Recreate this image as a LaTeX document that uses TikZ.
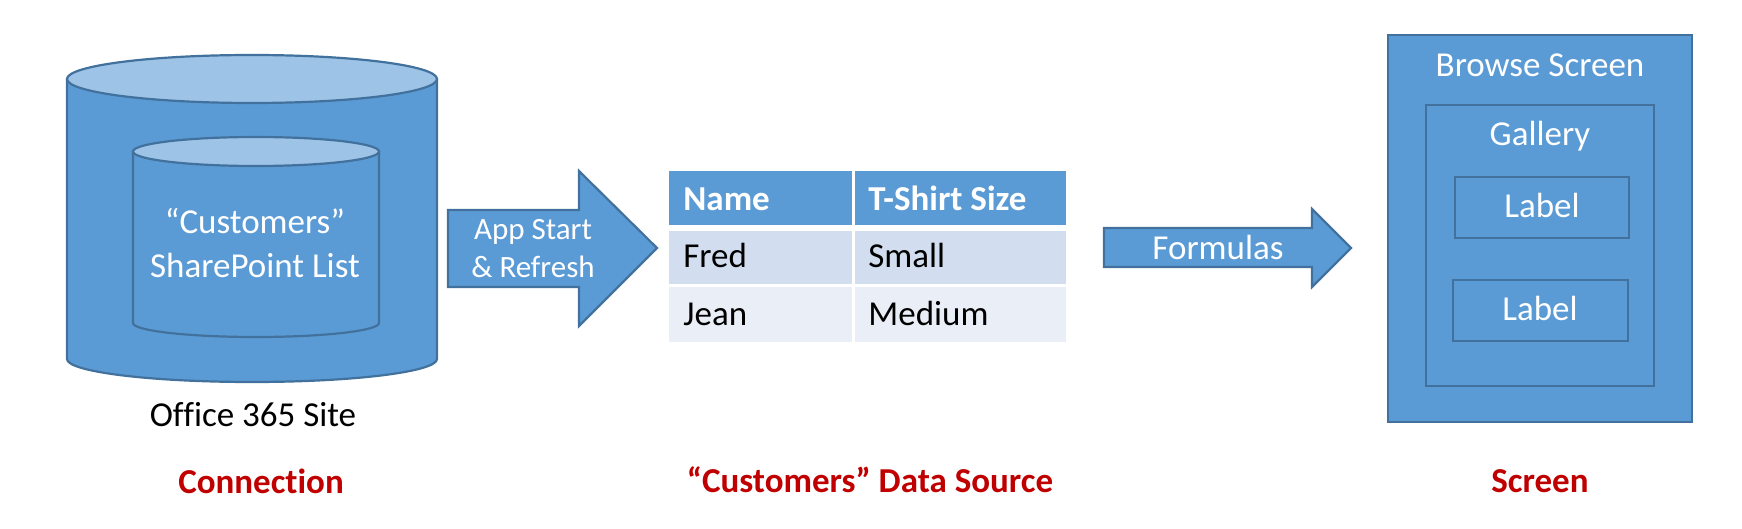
\documentclass[tikz,border=0pt]{standalone}
\usepackage{fontspec}
\setmainfont{Carlito}[Ligatures={TeX,NoCommon}]
\definecolor{blueA}{HTML}{5B9BD5}
\definecolor{bordA}{HTML}{41719C}
\definecolor{liteA}{HTML}{9DC3E6}
\definecolor{rowA}{HTML}{D2DEEF}
\definecolor{rowB}{HTML}{EAEFF7}
\definecolor{redA}{HTML}{C00000}
\tikzset{
  blk/.style={fill=blueA, draw=bordA, line width=1.1pt, line join=miter},
  lid/.style={fill=liteA, draw=bordA, line width=1.1pt},
  wtxt/.style={text=white, font=\fontsize{17.5}{21}\selectfont, anchor=base, inner sep=0pt},
  stxt/.style={text=white, font=\fontsize{15.5}{19}\selectfont, anchor=base, inner sep=0pt},
  ktxt/.style={text=black, font=\fontsize{17.5}{21}\selectfont, anchor=base, inner sep=0pt},
  htxt/.style={text=white, font=\bfseries\fontsize{17.5}{21}\selectfont, anchor=base west, inner sep=0pt},
  ctxt/.style={text=black, font=\fontsize{17.5}{21}\selectfont, anchor=base west, inner sep=0pt},
  rtxt/.style={text=redA, font=\bfseries\fontsize{17.5}{21}\selectfont, anchor=base, inner sep=0pt},
  cellh/.style={fill=blueA, draw=none},
  cella/.style={fill=rowA, draw=none},
  cellb/.style={fill=rowB, draw=none}
}
\begin{document}
\begin{tikzpicture}[x=0.5pt,y=-0.5pt]
\useasboundingbox (0,0) rectangle (1742,529);

% outer cylinder
\path[blk] (67,79) -- (67,359) arc[start angle=180,end angle=0,x radius=185,y radius=23] -- (437,79) -- cycle;
\draw[lid] (252,79) ellipse[x radius=185, y radius=24];
% inner cylinder
\path[blk] (133,151.5) -- (133,323) arc[start angle=180,end angle=0,x radius=123,y radius=14] -- (379,151.5) -- cycle;
\draw[lid] (256,151.5) ellipse[x radius=123, y radius=14.5];
\node[wtxt] (cust) at (255,234) {“Customers”};
\node[wtxt] (splist) at (255,278) {SharePoint List};
\node[ktxt] (site) at (253,427) {Office 365 Site};
\node[rtxt] (conn) at (261,494) {Connection};

% arrow 1
\path[blk] (448,210) -- (579,210) -- (579,171) -- (657,248) -- (579,326) -- (579,287) -- (448,287) -- cycle;
\node[stxt] (app1) at (533,240) {App Start};
\node[stxt] (app2) at (533,278) {\& Refresh};

% table
\fill[cellh] (669,171) rectangle (852,225);
\fill[cellh] (855,171) rectangle (1066,225);
\fill[cella] (669,231) rectangle (852,284);
\fill[cella] (855,231) rectangle (1066,284);
\fill[cellb] (669,287) rectangle (852,342);
\fill[cellb] (855,287) rectangle (1066,342);
\node[htxt] (hname) at (683,211) {Name};
\node[htxt] (hsize) at (868,211) {T-Shirt Size};
\node[ctxt] (fred) at (683,268) {Fred};
\node[ctxt] (small) at (868,268) {Small};
\node[ctxt] (jean) at (683,326) {Jean};
\node[ctxt] (medium) at (868,326) {Medium};
\node[rtxt] (dsrc) at (870,493) {“Customers” Data Source};

% arrow 2
\path[blk] (1104,228) -- (1312,228) -- (1312,209) -- (1351,248) -- (1312,287) -- (1312,267) -- (1104,267) -- cycle;
\node[wtxt] (form) at (1218,260) {Formulas};

% screen
\draw[blk] (1388,35) rectangle (1692,422);
\draw[blk] (1426,105) rectangle (1654,386);
\draw[blk] (1455,177) rectangle (1629,238);
\draw[blk] (1453,280) rectangle (1628,341);
\node[wtxt] (browse) at (1540,77) {Browse Screen};
\node[wtxt] (gallery) at (1540,146) {Gallery};
\node[wtxt] (lab1) at (1542,218) {Label};
\node[wtxt] (lab2) at (1540,321) {Label};
\node[rtxt] (scr) at (1540,493) {Screen};
\end{tikzpicture}
\end{document}
